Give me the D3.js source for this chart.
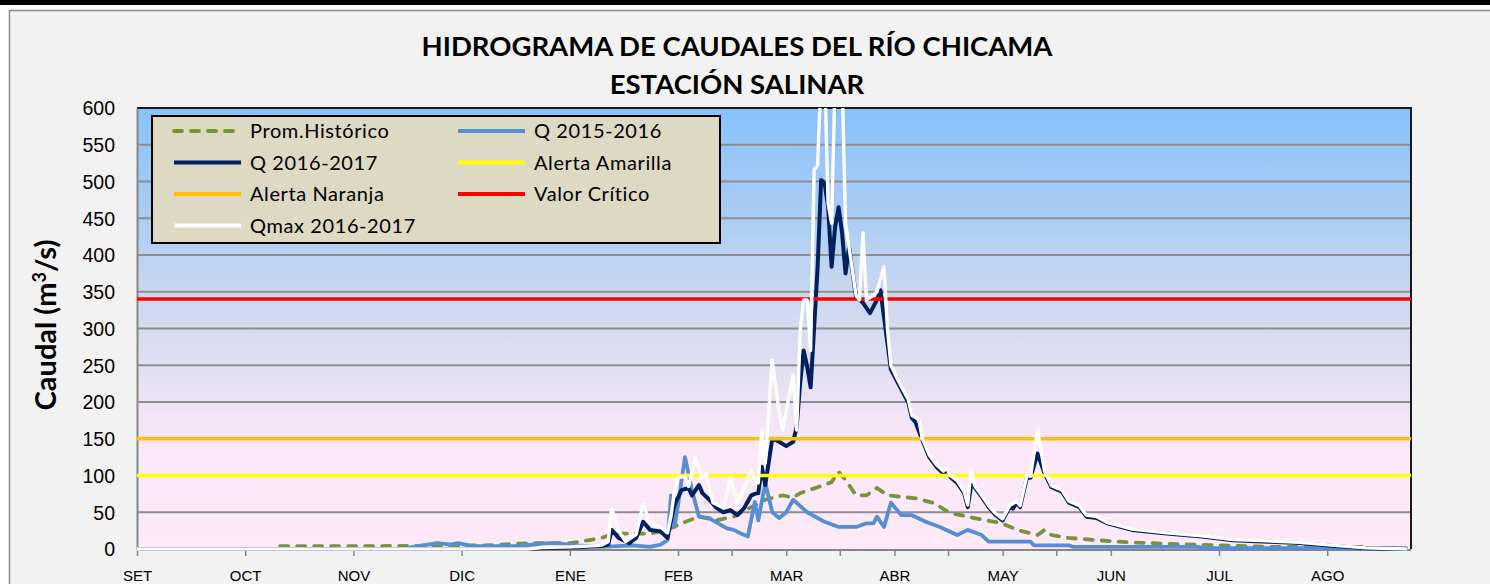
<!DOCTYPE html>
<html><head><meta charset="utf-8">
<script src="https://cdn.jsdelivr.net/npm/d3@7/dist/d3.min.js"></script>
<style>
body{margin:0;background:#fff;}
svg{display:block;font-family:Lato,'Open Sans',sans-serif;}
</style></head>
<body><svg id="chart" width="1490" height="584"></svg>
<script>
// ---------- DATA ----------
const monthLabels = ["SET","OCT","NOV","DIC","ENE","FEB","MAR","ABR","MAY","JUN","JUL","AGO"];
const yTicks = [0,50,100,150,200,250,300,350,400,450,500,550,600];
// [day since 1 Sep, m3/s]
const promHistorico = [[41,4],[70,4],[100,5],[113,8],[124,8],[127,10],[133,15],[137,21],[142,21],[147,21],[152,26],[156,35],[161,44],[166,39],[171,44],[176,57],[180,67],[185,73],[188,70],[190,76],[195,84],[199,91],[201,105],[203,94],[206,73],[209,73],[212,83],[215,73],[219,71],[223,69],[228,63],[233,49],[238,44],[242,40],[247,36],[253,25],[258,19],[260,26],[262,19],[267,15],[275,12],[281,10],[285,9],[295,7],[309,5],[324,3],[351,3]];
const q1516 = [[78,2],[86,8],[90,6],[92,8],[96,4],[108,4],[118,8],[122,7],[126,5],[133,3],[142,5],[147,3],[150,6],[152,12],[153,73],[154,30],[155,60],[157,125],[159,80],[161,44],[164,42],[165,39],[169,28],[171,26],[173,21],[175,17],[177,64],[178,39],[180,90],[182,50],[184,42],[186,50],[188,67],[192,50],[197,37],[201,30],[206,30],[209,35],[211,35],[212,44],[214,30],[216,63],[219,46],[222,46],[226,37],[230,30],[235,19],[238,26],[242,19],[244,10],[256,10],[257,5],[267,5],[268,3],[304,3],[306,1],[364,1]];
const q1617 = [[0,0],[112,0],[115,1],[125,2],[133,4],[135,6],[136,26],[138,15],[141,8],[143,15],[145,37],[147,26],[150,24],[152,15],[153,39],[154,60],[156,80],[158,83],[159,73],[161,87],[162,76],[164,67],[166,56],[168,50],[170,53],[172,46],[174,56],[176,73],[177,75],[178,76],[179,112],[180,87],[182,150],[184,146],[186,140],[188,146],[189,166],[190,226],[191,270],[192,248],[193,220],[195,384],[196,502],[197,498],[198,465],[199,384],[200,438],[201,465],[202,430],[203,375],[204,411],[206,343],[208,335],[210,321],[212,339],[213,352],[214,316],[216,244],[218,226],[221,199],[222,178],[223,173],[225,148],[227,125],[229,112],[231,103],[232,108],[233,98],[235,90],[237,76],[238,57],[239,87],[240,84],[242,71],[244,57],[246,46],[248,39],[250,57],[251,55],[252,63],[253,57],[255,98],[256,97],[258,130],[260,103],[262,84],[265,78],[267,63],[270,57],[272,44],[275,42],[278,35],[282,30],[285,26],[295,21],[305,17],[314,12],[324,10],[333,8],[343,4],[352,1],[364,0]];
const qmax1617 = [[0,0],[112,0],[116,2],[125,3],[133,5],[135,10],[136,56],[138,25],[140,10],[143,20],[145,61],[147,35],[150,30],[152,22],[153,45],[154,80],[155,98],[157,98],[158,85],[160,125],[162,94],[163,103],[165,63],[168,56],[170,97],[172,63],[174,83],[176,108],[177,94],[178,90],[179,162],[180,117],[182,257],[184,185],[185,162],[188,237],[189,162],[190,298],[191,339],[192,339],[193,270],[194,516],[195,522],[196,650],[197,650],[198,470],[199,443],[200,640],[202,640],[203,443],[204,411],[206,345],[207,339],[208,430],[209,339],[211,345],[212,350],[214,384],[215,300],[216,250],[218,230],[221,203],[222,182],[224,176],[225,150],[227,128],[229,115],[231,106],[232,110],[233,100],[235,93],[237,78],[238,60],[239,110],[240,86],[242,73],[244,59],[246,48],[248,41],[250,59],[252,65],[253,59],[255,101],[256,99],[258,162],[260,106],[262,86],[265,80],[267,65],[270,59],[272,46],[275,44],[278,36],[282,31],[285,27],[295,22],[305,18],[314,13],[324,11],[333,9],[343,5],[352,1.5],[364,0]];
const alertaAmarilla = 100;
const alertaNaranja = 150;
const valorCritico = 340;
const daysInYear = 365;
const monthInterval = 31;
const minorTicks = [170.5, 201.5, 232.5, 263.5];

// ---------- LAYOUT ----------
const svg = d3.select("#chart");
const M = {left:137, right:1411, top:108, bottom:549};
const x = d3.scaleLinear().domain([0, daysInYear]).range([M.left, M.right]);
const y = d3.scaleLinear().domain([0, 600]).range([M.bottom, M.top]);

// page frame
svg.append("rect").attr("x",0).attr("y",0).attr("width",1490).attr("height",5).attr("fill","#000");
svg.append("rect").attr("x",9.5).attr("y",10.5).attr("width",1500).attr("height",600)
  .attr("fill","#f2f2f2").attr("stroke","#8c8c8c").attr("stroke-width",1.5);

// background gradient
const defs = svg.append("defs");
const grad = defs.append("linearGradient").attr("id","bg").attr("x1",0).attr("y1",0).attr("x2",0).attr("y2",1);
[[0,"#87c2fb"],[0.25,"#abcdf3"],[0.45,"#cfd9ef"],[0.62,"#e6e0f3"],[0.78,"#fbe8f8"],[1,"#fde9f8"]]
  .forEach(([o,c])=>grad.append("stop").attr("offset",o).attr("stop-color",c));
defs.append("clipPath").attr("id","clip").append("rect")
  .attr("x",M.left).attr("y",M.top).attr("width",M.right-M.left).attr("height",M.bottom-M.top+3);

svg.append("rect").attr("x",M.left).attr("y",M.top).attr("width",M.right-M.left).attr("height",M.bottom-M.top)
  .attr("fill","url(#bg)");

// gridlines
svg.append("g").selectAll("line").data(yTicks.filter(d=>d>0)).join("line")
  .attr("x1",M.left).attr("x2",M.right).attr("y1",d=>y(d)).attr("y2",d=>y(d))
  .attr("stroke","#8e8e8e").attr("stroke-width",2);

// plot border (top/right)
svg.append("path").attr("d",`M${M.left},${M.top}H${M.right}V${M.bottom}`)
  .attr("fill","none").attr("stroke","#1a1a1a").attr("stroke-width",2);

// y axis
const yAxis = d3.axisLeft(y).tickValues(yTicks).tickSize(0).tickPadding(22);
const gy = svg.append("g").attr("transform",`translate(${M.left},0)`).call(yAxis);
gy.select(".domain").attr("stroke","#868686").attr("stroke-width",2);
gy.selectAll("text").attr("font-size",19.5).attr("fill","#000").attr("dy","0.35em");

// x axis
const xTickVals = monthLabels.map((m,i)=>i*monthInterval);
const xAxis = d3.axisBottom(x).tickValues(xTickVals).tickFormat((d,i)=>monthLabels[i]).tickSize(6).tickPadding(14);
const gx = svg.append("g").attr("transform",`translate(0,${M.bottom+1})`).call(xAxis);
gx.select(".domain").attr("stroke","#868686").attr("stroke-width",2).attr("d",`M${M.left},0H${M.right}`);
gx.selectAll(".tick line").attr("stroke","#868686").attr("stroke-width",1.5);
gx.selectAll("text").attr("font-size",15).attr("fill","#000");
gx.append("g").selectAll("line").data(minorTicks).join("line")
  .attr("x1",d=>x(d)).attr("x2",d=>x(d)).attr("y1",0).attr("y2",6)
  .attr("stroke","#868686").attr("stroke-width",1.5);

// series
const line = d3.line().x(d=>x(d[0])).y(d=>y(d[1]));
const plot = svg.append("g").attr("clip-path","url(#clip)");
plot.append("path").datum(promHistorico).attr("d",line).attr("fill","none")
  .attr("stroke","#77933c").attr("stroke-width",3.8).attr("stroke-dasharray","8,9").attr("stroke-linecap","round");
plot.append("path").datum(q1516).attr("d",line).attr("fill","none")
  .attr("stroke","#558ed5").attr("stroke-width",3.8).attr("stroke-linejoin","round");
plot.append("path").datum(q1617).attr("d",line).attr("fill","none")
  .attr("stroke","#002060").attr("stroke-width",4).attr("stroke-linejoin","round");
const thresholds = [[alertaAmarilla,"#ffff00"],[alertaNaranja,"#ffc000"],[valorCritico,"#ff0000"]];
plot.append("g").selectAll("line").data(thresholds).join("line")
  .attr("x1",x(0)).attr("x2",x(daysInYear)).attr("y1",d=>y(d[0])).attr("y2",d=>y(d[0]))
  .attr("stroke",d=>d[1]).attr("stroke-width",3.5);
plot.append("path").datum(qmax1617).attr("d",line).attr("fill","none")
  .attr("stroke","#ffffff").attr("stroke-width",3.4).attr("stroke-linejoin","round");

// titles
svg.append("text").attr("x",737).attr("y",56).attr("text-anchor","middle").attr("font-weight","bold")
  .attr("font-size",27.5).text("HIDROGRAMA DE CAUDALES DEL RÍO CHICAMA");
svg.append("text").attr("x",737).attr("y",94).attr("text-anchor","middle").attr("font-weight","bold")
  .attr("font-size",27.5).text("ESTACIÓN SALINAR");
const yt = svg.append("text").attr("transform","translate(56,325) rotate(-90)").attr("text-anchor","middle")
  .attr("font-weight","bold").attr("font-size",29);
yt.append("tspan").text("Caudal (m");
yt.append("tspan").attr("font-size",18).attr("dy",-10).text("3");
yt.append("tspan").attr("dy",10).text("/s)");

// legend
const legendItems = [
  {name:"Prom.Histórico", color:"#77933c", dash:"8,9"},
  {name:"Q 2015-2016", color:"#558ed5"},
  {name:"Q 2016-2017", color:"#002060"},
  {name:"Alerta Amarilla", color:"#ffff00"},
  {name:"Alerta Naranja", color:"#ffc000"},
  {name:"Valor Crítico", color:"#ff0000"},
  {name:"Qmax 2016-2017", color:"#ffffff"}
];
const lg = svg.append("g");
lg.append("rect").attr("x",152).attr("y",116).attr("width",568).attr("height",127)
  .attr("fill","#ddd9c3").attr("stroke","#000").attr("stroke-width",2);
const li = lg.selectAll("g.it").data(legendItems).join("g").attr("class","it")
  .attr("transform",(d,i)=>`translate(${i%2===0?174:458},${131+Math.floor(i/2)*31.5})`);
li.append("line").attr("x1",0).attr("x2",67).attr("y1",0).attr("y2",0)
  .attr("stroke",d=>d.color).attr("stroke-width",3.8)
  .attr("stroke-dasharray",d=>d.dash||null).attr("stroke-linecap",d=>d.dash?"round":"butt");
li.append("text").attr("x",76).attr("y",0).attr("dy","0.35em").attr("font-size",20)
  .attr("letter-spacing",0.6).text(d=>d.name);
</script></body></html>
